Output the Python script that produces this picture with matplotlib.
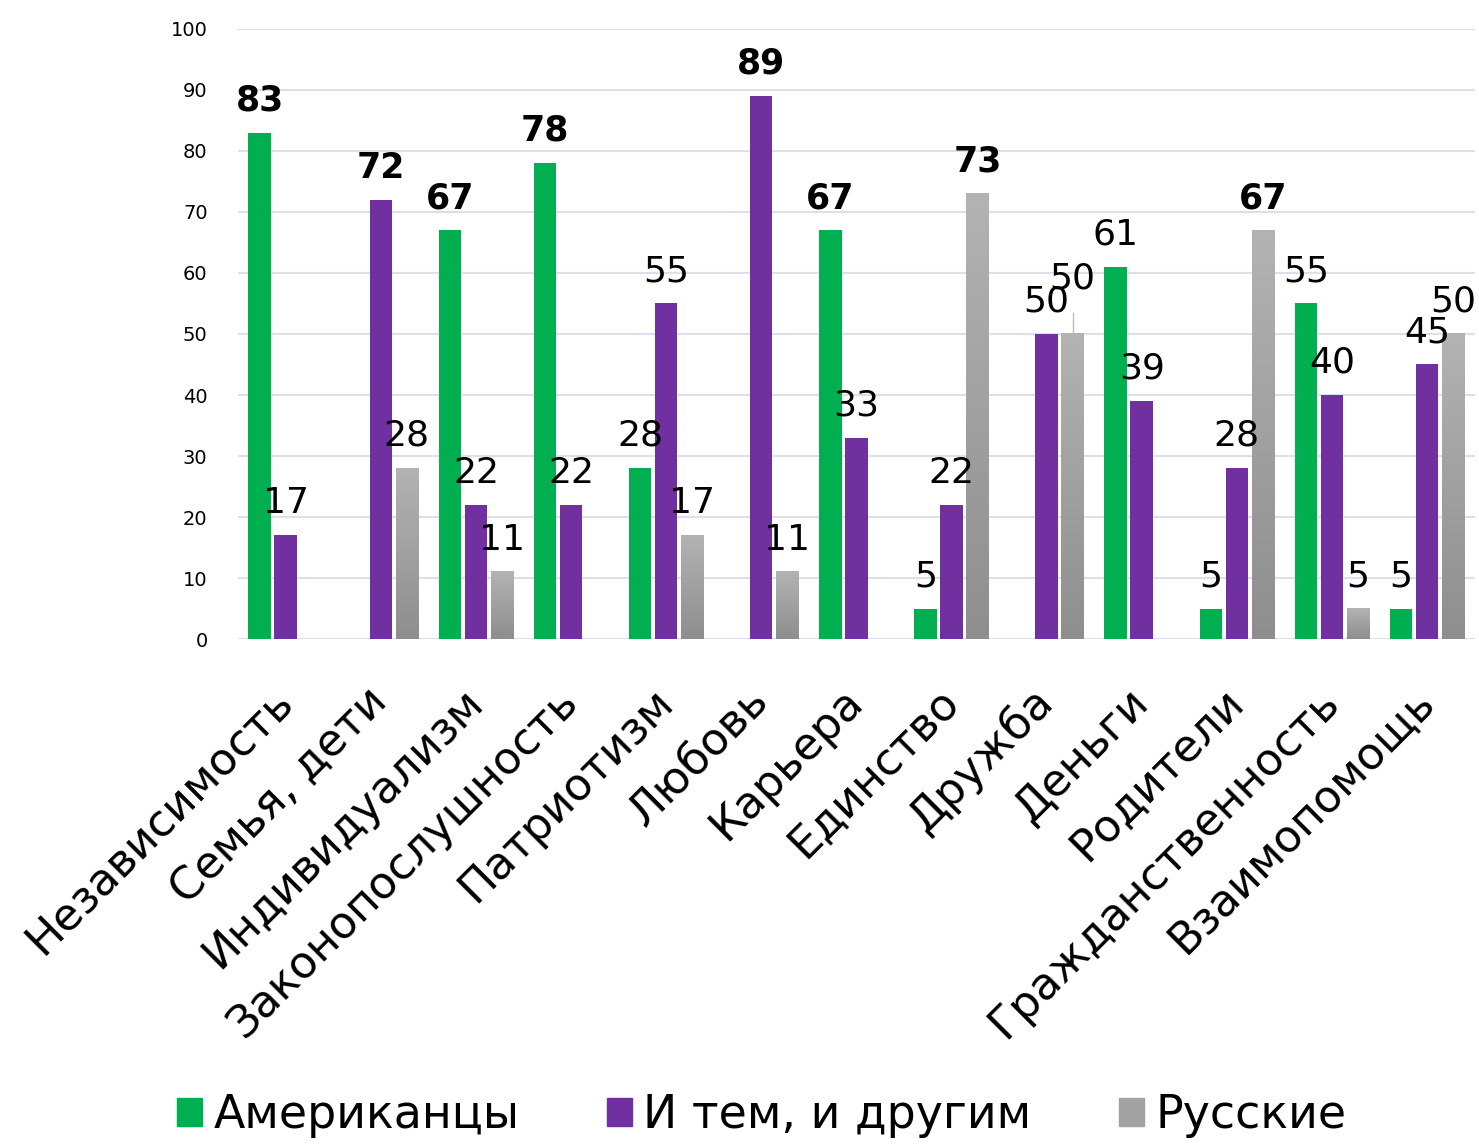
import numpy as np
import matplotlib
matplotlib.use("Agg")
import matplotlib.pyplot as plt
from matplotlib.patches import Patch

# ---- data ----
categories = ["Независимость", "Семья, дети", "Индивидуализм", "Законопослушность",
              "Патриотизм", "Любовь", "Карьера", "Единство", "Дружба", "Деньги",
              "Родители", "Гражданственность", "Взаимопомощь"]
series_names = ["Американцы", "И тем, и другим", "Русские"]
americans = [83, None, 67, 78, 28, None, 67, 5, None, 61, 5, 55, 5]
both = [17, 72, 22, 22, 55, 89, 33, 22, 50, 39, 28, 40, 45]
russians = [None, 28, 11, None, 17, 11, None, 73, 50, None, 67, 5, 50]
# which series gets the bold label in each category (-1 = none)
bold_series = [0, 1, 0, 0, -1, 1, 0, 2, -1, -1, 2, -1, -1]

GREEN = "#00b050"
PURPLE = "#7030a0"
GRAY_TOP = "#b3b3b3"
GRAY_BOT = "#8e8e8e"

plt.rcParams["font.family"] = ["DejaVu Sans"]

fig = plt.figure(figsize=(14.79, 11.45), dpi=100)
ax = fig.add_axes([0.161, 0.4419, 0.836, 0.5328])

x = np.arange(len(categories))
w = 0.236
step = 0.273
offsets = [-step, 0, step]
all_series = [americans, both, russians]

grad = np.linspace(1, 0, 256).reshape(-1, 1)
gray_cmap = matplotlib.colors.LinearSegmentedColormap.from_list("g", [GRAY_BOT, GRAY_TOP])

for si, vals in enumerate(all_series):
    for i, v in enumerate(vals):
        if v is None:
            continue
        xc = x[i] + offsets[si]
        if si == 2:
            ax.imshow(grad, cmap=gray_cmap, aspect="auto", zorder=2,
                      extent=[xc - w / 2, xc + w / 2, 0, v], interpolation="bilinear")
        else:
            ax.bar(xc, v, width=w, color=[GREEN, PURPLE][si], zorder=2)
        bold = bold_series[i] == si
        dy = 16
        if i == 8 and si == 2:
            # label pushed up with a leader line, as in the source chart
            dy = 33
            ax.plot([xc, xc], [v, v + 3.5], color="#b4bdd0", lw=1, zorder=1)
        ax.annotate(str(v), (xc, v), xytext=(0, dy), textcoords="offset points",
                    ha="center", va="baseline", fontsize=26 if not bold else 25,
                    fontweight="bold" if bold else "normal", color="black", zorder=3)

ax.set_xlim(-0.5, len(categories) - 0.5)
ax.set_ylim(0, 100)
ax.set_yticks(range(0, 101, 10))
ax.tick_params(axis="y", length=0, pad=22, labelsize=14)
ax.tick_params(axis="x", length=0, pad=40)
ax.set_xticks(x)
ax.set_xticklabels(categories, rotation=45, ha="right", va="center",
                   rotation_mode="anchor", fontsize=32)
ax.grid(axis="y", color="#dde0e8", lw=1.5, zorder=0)
for s in ax.spines.values():
    s.set_visible(False)

handles = [Patch(color=GREEN), Patch(color=PURPLE), Patch(color="#a2a2a2")]
fig.legend(handles, series_names, loc="lower center", ncol=3, frameon=False,
           fontsize=33, bbox_to_anchor=(0.515, -0.03), handlelength=0.55,
           handleheight=0.55, handletextpad=0.25, columnspacing=1.9)

fig.savefig("out.png", dpi=100)
